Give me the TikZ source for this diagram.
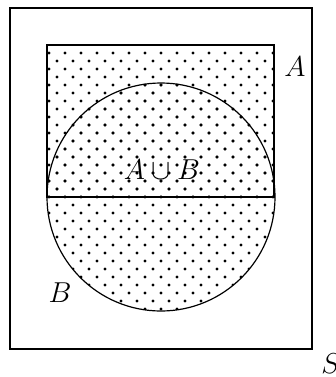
\documentclass[tikz,border=0pt]{standalone}
\begin{document}
\begin{tikzpicture}[
  x=0.5pt, y=-0.5pt,
  every node/.style={font=\Large},
  edge/.style={draw=black, line width=0.6pt},
  spot/.style={fill=black}
]
\useasboundingbox (0,0) rectangle (336,377);

% Pontos do conjunto A (quadrado)
\begin{scope}
  \clip (47,45) rectangle (274,197);
  \foreach \k in {0,...,19} {
    \foreach \j in {0,...,14} {
      \fill[spot] ({49+16*\j+8*mod(\k,2)}, {53+8*\k}) circle (0.8pt);
    }
  }
\end{scope}

% Pontos do conjunto B (circulo)
\begin{scope}
  \clip (161,197) circle (57pt);
  \foreach \k in {0,...,33} {
    \foreach \j in {0,...,14} {
      \fill[spot] ({49+16*\j+8*mod(\k,2)}, {53+8*\k}) circle (0.8pt);
    }
  }
\end{scope}

% Conjuntos
\draw[edge] (10,8) rectangle (312,349);
\draw[edge] (47,45) rectangle (274,197);
\draw[edge] (161,197) circle (57pt);

% Rotulos
\node (lA) at (295,67) {$A$};
\node (lB) at (60,293) {$B$};
\node (lAB) at (162,170) {$A\cup B$};
\node (lS) at (331,364) {$S$};
\end{tikzpicture}
\end{document}
